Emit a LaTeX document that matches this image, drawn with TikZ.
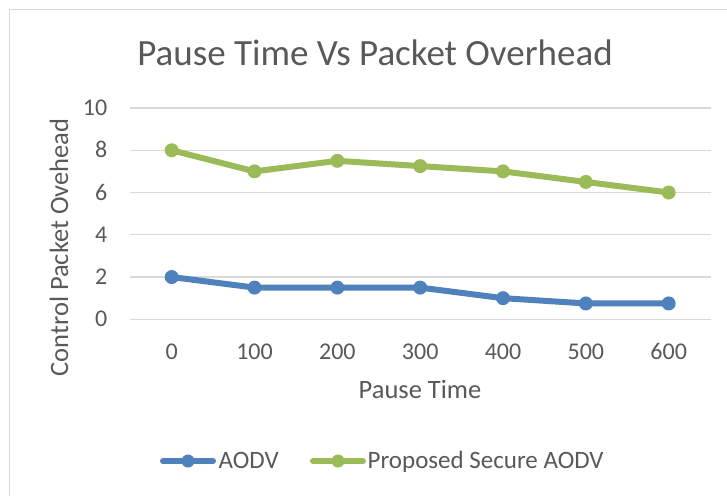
\documentclass[tikz,border=0pt]{standalone}
\usepackage{fontspec}
\setmainfont{Carlito}
\definecolor{txtgray}{HTML}{595959}
\definecolor{gridgray}{HTML}{D9D9D9}
\definecolor{aodvblue}{HTML}{4F81BD}
\definecolor{securegreen}{HTML}{9BBB59}
\tikzset{
  chartframe/.style={draw=gridgray, line width=1.8pt},
  gridline/.style={draw=gridgray, line width=1.4pt},
  ticklabel/.style={text=txtgray, font=\fontsize{24}{24}\selectfont, inner sep=0pt},
  axistitle/.style={text=txtgray, font=\fontsize{26.5}{26.5}\selectfont, inner sep=0pt},
  charttitle/.style={text=txtgray, font=\fontsize{37}{37}\selectfont, inner sep=0pt},
  legtext/.style={text=txtgray, font=\fontsize{25}{25}\selectfont, inner sep=0pt},
  aodvline/.style={draw=aodvblue, line width=6pt, line cap=round, line join=round},
  secureline/.style={draw=securegreen, line width=6pt, line cap=round, line join=round},
  aodvdot/.style={circle, fill=aodvblue, inner sep=0pt, minimum size=14pt},
  securedot/.style={circle, fill=securegreen, inner sep=0pt, minimum size=14pt},
}
\begin{document}
\begin{tikzpicture}[x=1pt,y=-1pt]
\useasboundingbox (0,0) rectangle (727,495);
\clip (0,0) rectangle (727,495);
\fill[white] (0,0) rectangle (727,495);
% chart area frame (runs off the right and bottom edges)
\draw[chartframe] (760,9.5) -- (9.5,9.5) -- (9.5,520);

% title
\node[charttitle, anchor=base] (title) at (375,65) {Pause Time Vs Packet Overhead};

% horizontal gridlines and value labels
\foreach \v in {0,2,...,10} {
  \draw[gridline] (130,{319.3-21.13*\v}) -- (710.5,{319.3-21.13*\v});
  \node[ticklabel, anchor=base east] (ytick\v) at (107.5,{319.3-21.13*\v+7.6}) {\v};
}

% category labels
\foreach \i/\t in {0/0,1/100,2/200,3/300,4/400,5/500,6/600} {
  \node[ticklabel, anchor=base] (xtick\i) at ({171.7+82.83*\i},359) {\t};
}

% axis titles
\node[axistitle, anchor=base] (xtitle) at (420,398.8) {Pause Time};
\node[axistitle, anchor=base, rotate=90] (ytitle) at (68,247.5) {Control Packet Ovehead};

% data points
\foreach \i/\a/\s in {0/2/8,1/1.5/7,2/1.5/7.5,3/1.5/7.25,4/1/7,5/0.75/6.5,6/0.75/6} {
  \coordinate (a\i) at ({171.7+82.83*\i},{319.3-21.13*\a});
  \coordinate (s\i) at ({171.7+82.83*\i},{319.3-21.13*\s});
}

% AODV series
\draw[aodvline] (a0) -- (a1) -- (a2) -- (a3) -- (a4) -- (a5) -- (a6);
\foreach \i in {0,...,6} \node[aodvdot] (am\i) at (a\i) {};

% Proposed Secure AODV series
\draw[secureline] (s0) -- (s1) -- (s2) -- (s3) -- (s4) -- (s5) -- (s6);
\foreach \i in {0,...,6} \node[securedot] (sm\i) at (s\i) {};

% legend
\coordinate (lgA1) at (163,461);
\coordinate (lgA2) at (213,461);
\draw[aodvline] (lgA1) -- (lgA2);
\node[aodvdot, minimum size=13pt] (lgAm) at (188,461) {};
\node[legtext, anchor=base west] (lgAt) at (218.5,468.5) {AODV};

\coordinate (lgS1) at (313,461);
\coordinate (lgS2) at (363,461);
\draw[secureline] (lgS1) -- (lgS2);
\node[securedot, minimum size=13pt] (lgSm) at (338,461) {};
\node[legtext, anchor=base west] (lgSt) at (367.5,468.5) {Proposed Secure AODV};
\end{tikzpicture}
\end{document}
